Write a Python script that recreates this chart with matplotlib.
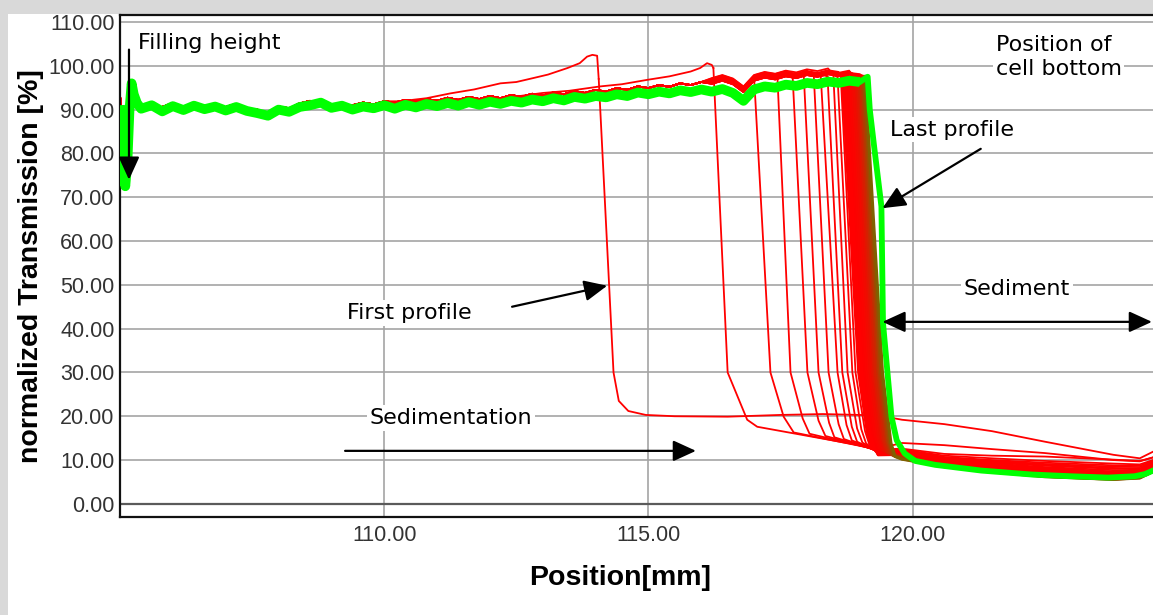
import numpy as np
import matplotlib
matplotlib.use("Agg")
from matplotlib import pyplot as plt
from matplotlib.patches import Rectangle

# ---- data ----
# left edge (filling height) shape, shared by green and red
left_x = [105.0, 105.03, 105.07, 105.10, 105.14, 105.18, 105.22, 105.26, 105.32]
green_left_y = [91.0, 86.0, 76.0, 72.5, 78.0, 90.0, 96.0, 93.5, 91.5]
red_left_y = [93.0, 90.0, 84.0, 80.0, 85.0, 92.0, 95.5, 94.0, 92.0]

plat_x = [105.4, 105.6, 105.8, 106.0, 106.2, 106.4, 106.6, 106.8, 107.0, 107.2,
          107.4, 107.6, 107.8, 108.0, 108.2, 108.4, 108.6, 108.8, 109.0, 109.2,
          109.4, 109.6, 109.8, 110.0, 110.2, 110.4, 110.6, 110.8, 111.0, 111.2,
          111.4, 111.6, 111.8, 112.0, 112.2, 112.4, 112.6, 112.8, 113.0, 113.2,
          113.4, 113.6, 113.8, 114.0, 114.2, 114.4, 114.6, 114.8, 115.0, 115.2,
          115.4, 115.6, 115.8, 116.0, 116.2, 116.4, 116.6, 116.8, 117.0, 117.2,
          117.4, 117.6, 117.8, 118.0, 118.2, 118.4, 118.6, 118.8, 119.0]
green_plat_y = [90.2, 91.0, 89.6, 90.8, 89.9, 90.9, 90.1, 90.7, 89.8, 90.6,
                89.7, 89.2, 88.6, 90.0, 89.5, 90.6, 91.0, 91.6, 90.4, 90.9,
                90.0, 90.7, 90.3, 91.0, 90.2, 91.1, 90.5, 91.3, 90.8, 91.5,
                90.9, 91.7, 91.1, 91.8, 91.3, 92.0, 91.6, 92.3, 91.9, 92.6,
                92.1, 92.9, 92.5, 93.1, 92.8, 93.5, 93.1, 93.9, 93.5, 94.1,
                93.7, 94.4, 94.0, 94.6, 94.1, 94.7, 93.8, 92.0, 94.6, 95.3,
                95.0, 95.7, 95.4, 96.1, 95.8, 96.4, 96.1, 96.6, 96.3]
red_plat_y = [91.2, 90.4, 90.6, 91.5, 89.4, 91.4, 90.9, 90.0, 90.6, 91.3,
              89.2, 90.0, 88.0, 90.7, 90.3, 91.4, 92.0, 91.0, 91.2, 90.3,
              91.0, 91.6, 91.2, 91.9, 91.6, 92.2, 91.8, 92.4, 92.0, 92.7,
              92.2, 92.9, 92.4, 93.1, 92.6, 93.3, 92.9, 93.6, 93.2, 93.9,
              93.5, 94.2, 93.8, 94.5, 94.1, 94.9, 94.5, 95.3, 94.9, 95.6,
              95.2, 96.0, 95.6, 96.3, 95.9, 96.6, 95.8, 94.0, 96.6, 97.3,
              96.9, 97.6, 97.2, 97.9, 97.5, 98.1, 97.7, 98.2, 97.9]

# green (last profile): drop and sediment tail
green_drop_x = [119.15, 119.19, 119.28, 119.41, 119.44, 119.60, 119.70, 119.85,
                120.05, 120.43, 121.3, 122.25, 123.0, 123.7, 124.2, 124.4, 124.55]
green_drop_y = [97.5, 90.0, 80.8, 67.9, 41.3, 19.9, 14.5, 11.5,
                9.8, 8.9, 7.6, 6.7, 6.3, 6.0, 6.3, 6.8, 7.6]

# first and second profiles rise above the others before their fronts
first_rise_x = [110.3, 110.8, 111.25, 111.7, 112.2, 112.5, 112.82, 113.1, 113.47,
                113.7, 113.84, 113.94, 114.03]
first_rise_y = [91.9, 92.6, 93.7, 94.6, 96.0, 96.3, 97.2, 98.0, 99.5,
                100.6, 102.1, 102.5, 102.3]
second_rise_x = [112.5, 113.0, 113.5, 114.09, 114.5, 114.98, 115.4, 115.8, 115.98,
                 116.11, 116.2]
second_rise_y = [93.0, 93.8, 94.3, 95.3, 95.8, 96.8, 97.6, 98.7, 99.5, 100.6, 100.2]

# red profiles: front top, point at 30 %, knee points, level near 119.35 mm
red_top_x = [114.06, 116.23, 117.00, 117.44, 117.73, 117.94, 118.13, 118.26, 118.39,
             118.50, 118.58, 118.64, 118.67, 118.71, 118.74, 118.78, 118.81, 118.85,
             118.88, 118.92, 118.95, 118.98, 119.01, 119.04, 119.07, 119.10]
red_top_y = [97.0, 99.5, 97.5, 98.0, 97.5, 98.0, 97.8, 98.2, 97.6, 98.0, 97.5, 97.8, 97.5,
             97.8, 97.4, 97.9, 97.5, 97.8, 97.4, 97.7, 97.5, 97.8, 97.4, 97.6, 97.5, 97.6]
red_x30 = [114.34, 116.50, 117.31, 117.69, 118.01, 118.22, 118.41, 118.58, 118.67,
           118.77, 118.86, 118.92, 118.98, 119.02, 119.06, 119.10, 119.13, 119.17,
           119.20, 119.24, 119.27, 119.30, 119.34, 119.37, 119.40, 119.43]
red_k1x = [114.44, 116.87, 117.56, 117.92, 118.22, 118.42, 118.60, 118.75, 118.85,
           118.95, 119.03, 119.10, 119.14, 119.18, 119.22, 119.26, 119.29, 119.33,
           119.36, 119.40, 119.43, 119.46, 119.50, 119.53, 119.56, 119.59]
red_k1y = [23.5, 19.2, 19.9, 19.5, 19.0, 18.5, 18.2, 18.0, 17.6, 17.2, 17.0, 16.6, 16.5,
           16.3, 16.1, 15.9, 15.7, 15.5, 15.3, 15.1, 14.9, 14.7, 14.5, 14.3, 14.1, 13.9]
red_k2x = [114.62, 117.06, 117.75, 118.05, 118.35, 118.52, 118.70, 118.85, 118.95,
           119.05, 119.12, 119.18, 119.22, 119.26, 119.30, 119.34, 119.37, 119.41,
           119.44, 119.48, 119.51, 119.54, 119.58, 119.61, 119.64, 119.67]
red_k2y = [21.2, 17.6, 16.3, 16.0, 15.5, 15.2, 14.8, 14.5, 14.2, 14.0, 13.8, 13.6, 13.4,
           13.2, 13.0, 12.8, 12.6, 12.4, 12.2, 12.0, 11.8, 11.6, 11.4, 11.2, 11.0, 10.8]
red_mid_y = [20.2, 12.6, 12.4, 12.3, 12.2, 12.1, 12.0, 11.9, 11.8, 11.7, 11.6, 11.5, 11.4,
             11.3, 11.2, 11.1, 11.0, 10.9, 10.8, 10.7, 10.6, 10.5, 10.4, 10.3, 10.2, 10.1]
# extra height of each red plateau beyond 116 mm
red_lift = [0.0, 0.0, 0.8, 0.2, 1.2, 0.5, 1.0, 0.1, 0.7, 1.3, 0.3, 0.9, 0.4,
            0.0, 0.6, 0.2, 0.5, 0.0, 0.7, 0.3, 0.5, 0.1, 0.4, 0.0, 0.2, 0.0]
# flat part of the first profile after its knee
first_flat_x = [114.95, 115.5, 116.5, 117.5, 118.3]
first_flat_y = [20.3, 20.0, 19.9, 20.3, 20.5]

tail_x = [119.8, 120.6, 121.5, 122.5, 123.8, 124.3, 124.55]
red_tail = [
    [19.2, 18.2, 16.6, 14.2, 11.2, 10.4, 11.9],
    [13.9, 13.4, 12.5, 11.6, 10.0, 9.7, 10.6],
    [12.6, 11.4, 11.0, 10.8, 10.1, 9.8, 10.6],
    [12.4, 11.0, 10.4, 9.8, 9.2, 9.0, 10.0],
    [12.3, 10.7, 10.0, 9.4, 8.8, 8.7, 9.8],
    [12.2, 10.5, 9.8, 9.1, 8.5, 8.4, 9.6],
    [12.1, 10.3, 9.6, 8.9, 8.2, 8.1, 9.4],
    [12.0, 10.1, 9.4, 8.7, 8.0, 7.9, 9.2],
    [11.9, 10.0, 9.2, 8.4, 7.7, 7.6, 9.0],
    [11.8, 9.8, 9.0, 8.2, 7.4, 7.4, 8.8],
    [11.7, 9.7, 8.8, 8.0, 7.2, 7.2, 8.6],
    [11.6, 9.5, 8.6, 7.8, 7.0, 7.0, 8.4],
    [11.5, 9.4, 8.5, 7.6, 6.8, 6.9, 8.3],
    [11.4, 9.3, 8.3, 7.4, 6.6, 6.8, 8.2],
    [11.3, 9.2, 8.2, 7.2, 6.5, 6.7, 8.1],
    [11.2, 9.1, 8.0, 7.0, 6.3, 6.6, 8.0],
    [11.1, 9.0, 7.9, 6.9, 6.2, 6.5, 7.9],
    [11.0, 8.9, 7.8, 6.8, 6.1, 6.4, 7.8],
    [10.9, 8.8, 7.7, 6.7, 6.0, 6.3, 7.7],
    [10.8, 8.8, 7.6, 6.6, 5.9, 6.2, 7.6],
    [10.7, 8.7, 7.6, 6.5, 5.8, 6.2, 7.6],
    [10.6, 8.7, 7.5, 6.4, 5.8, 6.1, 7.5],
    [10.5, 8.6, 7.5, 6.4, 5.7, 6.1, 7.5],
    [10.4, 8.6, 7.4, 6.3, 5.7, 6.0, 7.4],
    [10.3, 8.5, 7.4, 6.3, 5.6, 6.0, 7.4],
    [10.2, 8.5, 7.3, 6.2, 5.6, 5.9, 7.4],
]

y_ticks = [0, 10, 20, 30, 40, 50, 60, 70, 80, 90, 100, 110]
x_ticks = [110, 115, 120]

# ---- figure ----
W, H = 1153, 615
fig = plt.figure(figsize=(W / 100, H / 100), dpi=100, facecolor="#d9d9d9")
fig.add_artist(Rectangle((8 / W, 0), 1, 1 - 14 / H, transform=fig.transFigure,
                         facecolor="white", edgecolor="none", zorder=-1))
ax = fig.add_axes([120 / W, (H - 517) / H, 1 - 120 / W, (517 - 15) / H])
ax.set_xlim(105.0, 124.55)
ax.set_ylim(-3.0, 111.6)

ax.set_axisbelow(True)
ax.grid(True, color="#a4a4a4", lw=1.2)
ax.axhline(0, color="#5a5a5a", lw=1.6, zorder=1)

n_red = len(red_top_x)
n_dense = n_red - 12
for i in range(n_red):
    # plateau part, thin red
    if i == 0:
        px = left_x + [x for x in plat_x if x < 110.2] + first_rise_x
        py = red_left_y + [y for x, y in zip(plat_x, red_plat_y) if x < 110.2] + first_rise_y
    elif i == 1:
        px = left_x + [x for x in plat_x if x < 112.45] + second_rise_x
        py = red_left_y + [y for x, y in zip(plat_x, red_plat_y) if x < 112.45] + second_rise_y
    else:
        keep = [k for k, x in enumerate(plat_x) if x < red_top_x[i] - 0.02]
        px = left_x + [plat_x[k] for k in keep]
        py = red_left_y + [red_plat_y[k] + (red_lift[i] if plat_x[k] >= 116.2 else 0)
                           for k in keep]
    px = px + [red_top_x[i]]
    py = py + [red_top_y[i]]
    ax.plot(px, py, color="#ff0000", lw=1.3, zorder=2)

    # front and sediment tail
    xs = [red_top_x[i], red_x30[i], red_k1x[i], red_k2x[i]]
    ys = [red_top_y[i], 30.0, red_k1y[i], red_k2y[i]]
    if i == 0:
        xs = xs + first_flat_x
        ys = ys + first_flat_y
    if red_k2x[i] < 119.33:
        xs.append(119.35)
        ys.append(red_mid_y[i])
    xs = xs + tail_x
    ys = ys + red_tail[i]
    if i < 12:
        col, lw = "#ff0000", 1.3
    else:
        t = (i - 12) / (n_dense - 1)
        col, lw = (1 - 0.5 * t ** 3, 0.38 * t ** 3, 0.0), 2.2
    ax.plot(xs, ys, color=col, lw=lw, zorder=2)

# last profile: thick noisy band on the plateau, thinner on the front and tail
ax.plot(left_x + plat_x, green_left_y + green_plat_y, color="#00ff00", lw=7,
        zorder=3, solid_capstyle="butt")
ax.plot(plat_x[-1:] + green_drop_x, green_plat_y[-1:] + green_drop_y,
        color="#00ff00", lw=4.2, zorder=3)

# ---- axes styling ----
ax.set_yticks(y_ticks)
ax.set_yticklabels(["%.2f" % v for v in y_ticks])
ax.set_xticks(x_ticks)
ax.set_xticklabels(["%.2f" % v for v in x_ticks])
ax.tick_params(length=0, labelsize=15.5, labelcolor="#333333", pad=4)
for lab in ax.get_xticklabels() + ax.get_yticklabels():
    lab.set_family(["Liberation Sans", "DejaVu Sans"])
ax.tick_params(axis="x", pad=6)
for s in ["left", "bottom", "top"]:
    ax.spines[s].set_color("#111111")
    ax.spines[s].set_linewidth(1.6)
ax.spines["right"].set_visible(False)

ax.set_ylabel("normalized Transmission [%]", fontsize=20.5, fontweight="bold",
              family=["Liberation Sans", "DejaVu Sans"], va="center")
ax.yaxis.set_label_coords((31 - 120) / (W - 120), 0.5)
ax.set_xlabel("Position[mm]", fontsize=20.5, fontweight="bold",
              family=["Liberation Sans", "DejaVu Sans"], va="center")
ax.xaxis.set_label_coords((620 - 120) / (W - 120), (517 - 578) / (517 - 15))

# ---- annotations ----
box = dict(facecolor="white", edgecolor="none", pad=2)
tkw = dict(fontsize=16, family="DejaVu Sans", color="black", bbox=box, zorder=6)
ax.text(105.34, 105.3, "Filling height", ha="left", va="center", **tkw)
ax.text(121.57, 102.0, "Position of\ncell bottom", ha="left", va="center",
        linespacing=1.2, **tkw)
ax.text(119.58, 85.4, "Last profile", ha="left", va="center", **tkw)
ax.text(109.29, 43.6, "First profile", ha="left", va="center", **tkw)
ax.text(120.97, 49.1, "Sediment", ha="left", va="center", **tkw)
ax.text(109.73, 19.6, "Sedimentation", ha="left", va="center", **tkw)

akw = dict(color="black", lw=1.6, shrinkA=0, shrinkB=0, mutation_scale=20)
head = "-|>,head_length=0.7,head_width=0.32"
ax.annotate("", xy=(105.17, 74.0), xytext=(105.17, 103.7),
            arrowprops=dict(arrowstyle=head, **akw), zorder=7)
ax.annotate("", xy=(119.43, 67.5), xytext=(121.29, 81.05),
            arrowprops=dict(arrowstyle=head, **akw), zorder=7)
ax.annotate("", xy=(114.22, 49.8), xytext=(112.42, 45.0),
            arrowprops=dict(arrowstyle=head, **akw), zorder=7)
ax.annotate("", xy=(115.9, 12.1), xytext=(109.26, 12.1),
            arrowprops=dict(arrowstyle=head, **akw), zorder=7)
ax.annotate("", xy=(124.53, 41.55), xytext=(119.43, 41.55),
            arrowprops=dict(arrowstyle="<|-|>,head_length=0.7,head_width=0.32", **akw),
            zorder=7, annotation_clip=False)

fig.savefig("out.png", dpi=100, facecolor=fig.get_facecolor())
plt.close(fig)
